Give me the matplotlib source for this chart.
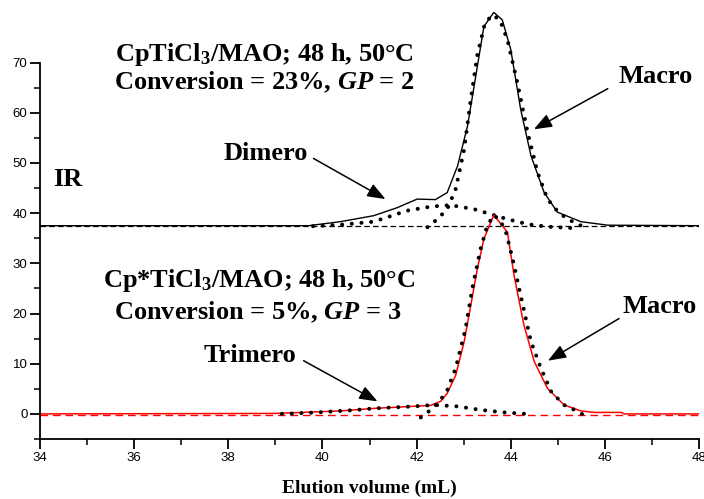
import matplotlib.pyplot as plt
from matplotlib.ticker import MultipleLocator

# upper chromatogram (CpTiCl3/MAO), solid trace
up_x = [34.0, 39.7, 40.38, 41.09, 41.59, 42.01, 42.40, 42.65, 42.87, 43.08, 43.29, 43.43,
        43.64, 43.82, 44.0, 44.21, 44.43, 44.71, 44.99, 45.49, 46.06, 48.0]
up_y = [37.5, 37.5, 38.3, 39.5, 41.1, 42.8, 42.7, 44.1, 49.4, 57.3, 69.2, 77.2,
        80.0, 78.5, 72.6, 60.7, 51.4, 44.1, 40.2, 38.3, 37.6, 37.5]
# upper macro fit (dotted)
upm_x = [42.23, 42.44, 42.65, 42.83, 43.01, 43.15, 43.29, 43.45, 43.61, 43.77, 43.93,
         44.14, 44.36, 44.57, 44.78, 45.0, 45.21, 45.56]
upm_y = [37.2, 38.8, 40.8, 44.8, 52.7, 62.6, 71.5, 77.8, 79.5, 78.5, 74.5,
         66.0, 56.0, 48.1, 42.8, 40.3, 38.8, 37.2]
# upper dimer fit (dotted)
upd_x = [39.8, 40.4, 41.09, 41.8, 42.3, 42.72, 43.22, 43.57, 43.93, 44.36, 44.78, 45.35]
upd_y = [37.4, 37.7, 38.3, 40.5, 41.3, 41.6, 40.8, 39.8, 38.8, 37.8, 37.3, 37.0]
up_base = 37.5

# lower chromatogram (Cp*TiCl3/MAO), solid red trace
lo_x = [34.0, 39.0, 40.38, 41.09, 42.30, 42.51, 42.65, 42.83, 43.01, 43.15, 43.29, 43.43,
        43.64, 43.93, 44.07, 44.28, 44.50, 44.78, 45.13, 45.49, 45.77, 46.35, 46.41, 48.0]
lo_y = [0.0, 0.1, 0.6, 1.1, 1.7, 2.5, 4.1, 7.7, 14.4, 21.6, 28.9, 34.9,
        39.6, 36.2, 27.6, 17.7, 10.4, 5.1, 1.8, 0.6, 0.3, 0.3, 0.0, 0.0]
# lower macro fit (dotted)
lom_x = [42.09, 42.30, 42.51, 42.65, 42.83, 43.04, 43.18, 43.36, 43.50, 43.64, 43.77, 43.89,
         44.05, 44.21, 44.43, 44.64, 44.86, 45.13, 45.42, 45.67]
lom_y = [-0.7, 0.8, 2.8, 4.7, 9.1, 17.0, 24.9, 32.9, 37.5, 39.6, 38.6, 36.5,
         30.5, 23.6, 14.4, 9.1, 4.4, 1.8, 0.5, -0.9]
# lower trimer fit (dotted)
lot_x = [39.14, 39.9, 40.74, 41.09, 41.94, 42.37, 42.87, 43.36, 43.86, 44.32]
lot_y = [0.0, 0.3, 0.8, 1.1, 1.5, 1.8, 1.5, 0.8, 0.3, 0.0]
lo_base = -0.3

plt.rcParams['font.family'] = ['Liberation Sans', 'DejaVu Sans']
plt.rcParams['mathtext.fontset'] = 'custom'
plt.rcParams['mathtext.rm'] = 'Liberation Serif:bold'
plt.rcParams['mathtext.bf'] = 'Liberation Serif:bold'
plt.rcParams['mathtext.it'] = 'Liberation Serif:bold:italic'
plt.rcParams['mathtext.bfit'] = 'Liberation Serif:bold:italic'
serif = ['Liberation Serif', 'DejaVu Serif']

fig = plt.figure(figsize=(7.04, 4.99), dpi=100)
ax = fig.add_axes([0.0568, 0.1202, 0.9362, 0.855])

dots = dict(color='black', linewidth=2.9, linestyle=(0, (0.01, 2.4)), dash_capstyle='round')

ax.plot([34, 48], [up_base, up_base], color='black', linestyle=(0, (4.5, 2.5)), linewidth=0.9)
ax.plot(up_x, up_y, color='black', linewidth=1.0)
ax.plot(upd_x, upd_y, **dots)
ax.plot(upm_x, upm_y, **dots)

ax.plot([34, 48], [lo_base, lo_base], color='red', linestyle=(0, (5.5, 3.5)), linewidth=1.0)
ax.plot(lo_x, lo_y, color='red', linewidth=1.1)
ax.plot(lot_x, lot_y, **dots)
ax.plot(lom_x, lom_y, **dots)

ax.set_xlim(34, 48)
ax.set_ylim(-5, 80)
ax.spines['top'].set_visible(False)
ax.spines['right'].set_visible(False)
ax.spines['left'].set_bounds(-5, 70)
ax.spines['left'].set_linewidth(1.3)
ax.spines['bottom'].set_linewidth(1.3)
ax.set_yticks([0, 10, 20, 30, 40, 50, 60, 70])
ax.set_yticks([-5, 5, 15, 25, 35, 45, 55, 65], minor=True)
ax.xaxis.set_major_locator(MultipleLocator(2))
ax.xaxis.set_minor_locator(MultipleLocator(1))
ax.tick_params(which='major', direction='out', length=7, width=1.3, labelsize=9.5, pad=2)
ax.tick_params(which='minor', direction='out', length=4, width=1.1)
ax.set_xlabel('Elution volume (mL)', family=serif, fontweight='bold', fontsize=14, labelpad=12)

tfs = 19
lbl = dict(family=serif, fontweight='bold', fontsize=tfs, va='center')
ax.text(38.77, 71.6, 'CpTiCl$_3$/MAO; 48 h, 50°C', ha='center', **lbl)
ax.text(38.77, 66.0, 'Conversion = 23%, $GP$ = 2', ha='center', **lbl)
ax.text(38.66, 26.5, 'Cp*TiCl$_3$/MAO; 48 h, 50°C', ha='center', **lbl)
ax.text(38.63, 20.3, 'Conversion = 5%, $GP$ = 3', ha='center', **lbl)
ax.text(34.28, 46.7, 'IR', ha='left', **lbl)
ax.text(38.79, 51.8, 'Dimero', ha='center', **lbl)
ax.text(47.07, 67.2, 'Macro', ha='center', **lbl)
ax.text(38.47, 11.6, 'Trimero', ha='center', **lbl)
ax.text(47.17, 21.4, 'Macro', ha='center', **lbl)

arrow = dict(arrowstyle='-|>,head_length=1.1,head_width=0.42', color='black', lw=1.1,
             shrinkA=0, shrinkB=0, mutation_scale=10)
# (tail, head) pairs for the arrows
arrows = [((39.81, 50.9), (41.34, 42.8)),
          ((46.06, 64.8), (44.49, 56.7)),
          ((39.6, 10.6), (41.17, 2.5)),
          ((46.3, 19.0), (44.79, 10.6))]
for tail, head in arrows:
    ax.annotate('', xy=head, xytext=tail, arrowprops=arrow)

fig.savefig('out.png', dpi=100)
